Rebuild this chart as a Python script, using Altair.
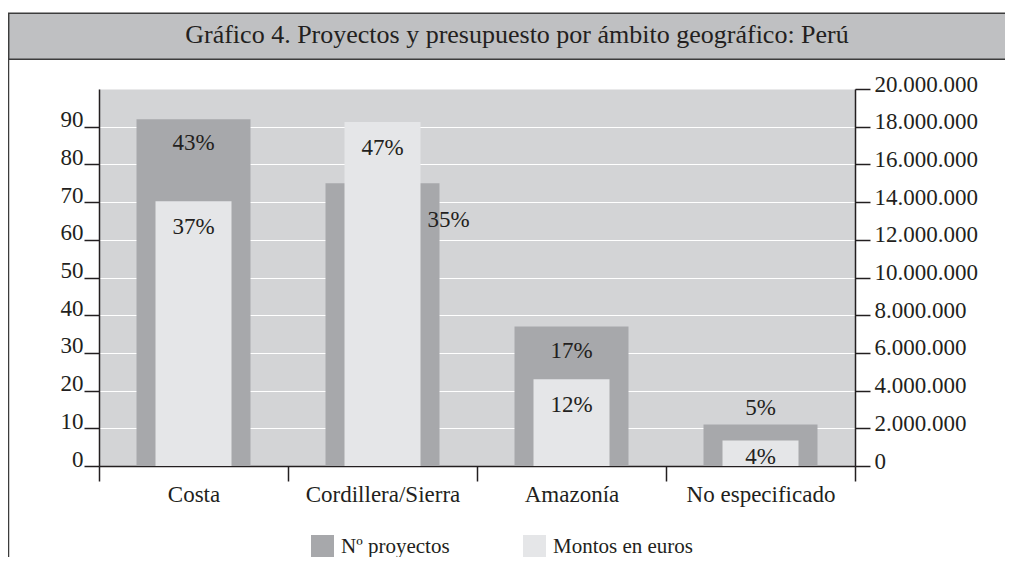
import altair as alt
import pandas as pd

# ---------------- data ----------------
regiones = ["Costa", "Cordillera/Sierra", "Amazonía", "No especificado"]
proyectos = [92, 75, 37, 11]
montos = [14050000, 18250000, 4600000, 1350000]
pct_proyectos = ["43%", "35%", "17%", "5%"]
pct_montos = ["37%", "47%", "12%", "4%"]
series = ["Nº proyectos", "Montos en euros"]
ticks_izq = [0, 10, 20, 30, 40, 50, 60, 70, 80, 90]
ticks_der = [0, 2000000, 4000000, 6000000, 8000000, 10000000,
             12000000, 14000000, 16000000, 18000000, 20000000]
titulo = "Gráfico 4. Proyectos y presupuesto por ámbito geográfico: Perú"

df = pd.DataFrame({
    "region": regiones,
    "proyectos": proyectos,
    "montos": montos,
    "pct_p": pct_proyectos,
    "pct_m": pct_montos,
})

# ---------------- style ----------------
FONT = "Liberation Serif"
INK = "#231f20"
DARK = "#a7a8ab"
LIGHT = "#e5e6e8"
PLOT_BG = "#d3d4d6"
TITLE_BG = "#bfc0c2"
FRAME = "#3c3c3c"

x_enc = alt.X(
    "region:N", sort=regiones,
    scale=alt.Scale(paddingInner=0, paddingOuter=0),
    axis=alt.Axis(title=None, labelAngle=0, tickBand="extent", tickSize=15,
                  tickWidth=1.5, tickColor=INK, domainColor=INK, domainWidth=1.5,
                  labelFont=FONT, labelFontSize=23, labelColor=INK, labelPadding=2),
)

color_enc = alt.Color(
    "serie:N",
    scale=alt.Scale(domain=series, range=[DARK, LIGHT]),
    legend=alt.Legend(title=None, orient="none", legendX=212, legendY=446,
                      direction="horizontal", symbolType="square", symbolSize=529,
                      symbolStrokeWidth=0, symbolOpacity=1, labelFont=FONT,
                      labelFontSize=21, labelColor=INK, labelOffset=7,
                      columnPadding=73, padding=0),
)

left_axis = alt.Axis(title=None, orient="left", values=ticks_izq, grid=True,
                     gridColor="white", gridWidth=1.2, tickSize=15, tickWidth=1.5,
                     tickColor=INK, domainColor=INK, domainWidth=1.5,
                     labelFont=FONT, labelFontSize=23, labelColor=INK,
                     labelPadding=1, labelBaseline="alphabetic", labelAlign="right")
y_left = alt.Y("proyectos:Q", scale=alt.Scale(domain=[0, 100], nice=False), axis=left_axis)

right_axis = alt.Axis(title=None, orient="right", values=ticks_der, grid=False,
                      tickSize=15, tickWidth=1.5, tickColor=INK, domainColor=INK,
                      domainWidth=1.5, labelFont=FONT, labelFontSize=23, labelColor=INK,
                      labelPadding=4, labelBaseline="alphabetic", labelAlign="left",
                      labelOffset=2,
                      labelExpr="replace(format(datum.value, ','), regexp(',', 'g'), '.')")
y_right = alt.Y("montos:Q", scale=alt.Scale(domain=[0, 20000000], nice=False), axis=right_axis)

base = alt.Chart(df)

def txt(**kw):
    return base.mark_text(font=FONT, fontSize=23, color=INK, baseline="middle",
                          align="center", **kw)

# dark bars (Nº proyectos, left axis)
dark_bars = base.transform_calculate(serie=f"'{series[0]}'").mark_bar(size=114).encode(
    x=x_enc, y=y_left, color=color_enc)
dark_lab_a = txt(dy=24).encode(x=x_enc, y=y_left, text="pct_p:N").transform_filter(
    alt.FieldOneOfPredicate(field="region", oneOf=[regiones[0], regiones[2]]))
dark_lab_b = txt(dy=37, dx=66).encode(x=x_enc, y=y_left, text="pct_p:N").transform_filter(
    alt.FieldEqualPredicate(field="region", equal=regiones[1]))
dark_lab_c = txt(dy=-17).encode(x=x_enc, y=y_left, text="pct_p:N").transform_filter(
    alt.FieldEqualPredicate(field="region", equal=regiones[3]))
left_layer = alt.layer(dark_bars, dark_lab_a, dark_lab_b, dark_lab_c)

# light bars (Montos, right axis)
light_bars = base.transform_calculate(serie=f"'{series[1]}'").mark_bar(size=76).encode(
    x=x_enc, y=y_right, color=color_enc)
light_lab_a = txt(dy=26).encode(x=x_enc, y=y_right, text="pct_m:N").transform_filter(
    alt.FieldOneOfPredicate(field="region", oneOf=regiones[:3]))
light_lab_b = txt(dy=16).encode(x=x_enc, y=y_right, text="pct_m:N").transform_filter(
    alt.FieldEqualPredicate(field="region", equal=regiones[3]))
right_layer = alt.layer(light_bars, light_lab_a, light_lab_b)

# frame + title bar
frame_src = alt.Chart(pd.DataFrame({"titulo": [titulo]}))
title_box = frame_src.mark_rect(fill=TITLE_BG, stroke=FRAME, strokeWidth=1.5).encode(
    x=alt.value(-90.5), x2=alt.value(914), y=alt.value(-75.7), y2=alt.value(-29.7))
left_border = frame_src.mark_rule(color=FRAME, strokeWidth=1.5).encode(
    x=alt.value(-90.5), y=alt.value(-75.7), y2=alt.value(470))
title_text = frame_src.mark_text(font=FONT, fontSize=26, color=INK, baseline="alphabetic",
                                 align="center").encode(
    x=alt.value(418), y=alt.value(-46.3), text="titulo:N")

chart = alt.layer(
    left_layer, right_layer, title_box, left_border, title_text
).resolve_scale(
    y="independent"
).properties(
    width=756, height=377,
    padding={"left": 91, "top": 81, "right": 150, "bottom": 91},
    autosize=alt.AutoSizeParams(type="none"),
    background="white",
).configure_view(
    fill=PLOT_BG, stroke="transparent"
)

chart.save("out.html", embed_options={"renderer": "svg", "actions": False})
